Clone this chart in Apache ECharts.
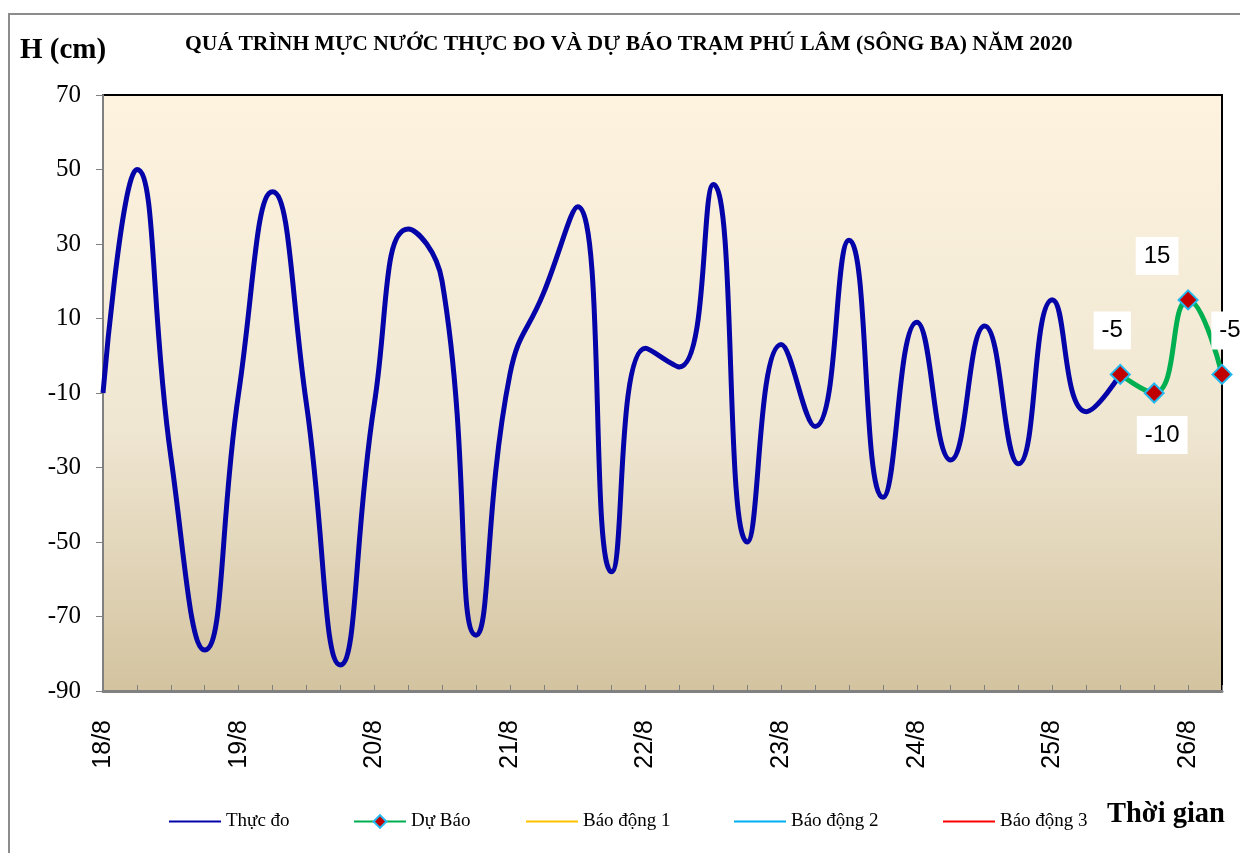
<!DOCTYPE html>
<html><head><meta charset="utf-8">
<script src="https://cdn.jsdelivr.net/npm/echarts@6/dist/echarts.min.js"></script>
<style>html,body{margin:0;padding:0;background:#fff}#c{width:1240px;height:853px}</style>
</head><body><div id="c"></div>
<script>
// Day labels (ticks at 00h of each day), data at 6-hour steps
var days = ['18/8','19/8','20/8','21/8','22/8','23/8','24/8','25/8','26/8'];
var hours = ['00h','06h','12h','18h'];
// Observed water level (cm), 18/8 00h .. 25/8 12h
var observed = [-10,50,-27,-79, -10,44,-13,-83, -13,34,20,-75, -5,17,40,-58,
                2,-3,46,-50, 3,-19,31,-38, 9,-28,8,-29, 15,-15,-5];
// Forecast (cm), 25/8 12h .. 26/8 06h
var forecast = [-5,-10,15,-5];
var forecastStart = 30;
var yTicks = {min:-90, max:70, step:20};
var legendNames = ['Thực đo','Dự Báo','Báo động 1','Báo động 2','Báo động 3'];

var categories = [];
days.forEach(function(d){ hours.forEach(function(h){ categories.push(d+' '+h); }); });
categories = categories.slice(0, forecastStart + forecast.length);

var obsData = categories.map(function(c,i){ return i < observed.length ? observed[i] : null; });
var labelOffsets = [[-8,-44],[8,42],[-31,-44],[8,-44]];
var fcData = categories.map(function(c,i){
  var k = i - forecastStart;
  if (k < 0 || k >= forecast.length) return null;
  return {value: forecast[k], label:{offset: labelOffsets[k]}};
});

var serif = '"Liberation Serif","Times New Roman",serif';
var sans = '"Liberation Sans",Arial,sans-serif';
var legendLefts = [163,348,520,728,937];
var legends = legendNames.map(function(n,i){
  var item = {name:n};
  if (n !== 'Dự Báo') item.itemStyle = {opacity:0};
  return {left:legendLefts[i],top:807,itemWidth:52,itemHeight:16,
    textStyle:{fontFamily:serif,fontSize:19,color:'#000'},data:[item]};
});

var chart = echarts.init(document.getElementById('c'), null, {renderer:'canvas'});
chart.setOption({
  animation:false,
  backgroundColor:'#ffffff',
  grid:{left:103,right:18,top:95,bottom:162,show:true,borderColor:'#000',borderWidth:2,
    backgroundColor:{type:'linear',x:0,y:0,x2:0,y2:1,colorStops:[
      {offset:0,color:'#fdf3df'},{offset:0.55,color:'#f0e7d3'},{offset:1,color:'#d3c39f'}]}},
  xAxis:{type:'category',data:categories,boundaryGap:false,
    axisLine:{onZero:false,lineStyle:{color:'#808080',width:3}},
    axisTick:{inside:true,length:6,interval:0,lineStyle:{color:'#808080',width:1}},
    axisLabel:{interval:3,rotate:90,margin:29,color:'#000',fontFamily:sans,fontSize:25,
      formatter:function(v){return v.split(' ')[0];}},
    splitLine:{show:false}},
  yAxis:{type:'value',min:yTicks.min,max:yTicks.max,interval:yTicks.step,
    axisLine:{show:true,lineStyle:{color:'#808080',width:2}},
    axisTick:{show:true,length:7,lineStyle:{color:'#808080',width:1}},
    axisLabel:{margin:22,color:'#000',fontFamily:serif,fontSize:25},
    splitLine:{show:false}},
  legend:legends,
  graphic:[
    {type:'rect',shape:{x:9,y:14,width:1250,height:850},style:{fill:'none',stroke:'#8c8c8c',lineWidth:2},silent:true,z:-1},
    {type:'text',left:20,top:36,style:{text:'H (cm)',font:'bold 29px '+serif,fill:'#000'}},
    {type:'text',left:185,top:33,style:{text:'QUÁ TRÌNH MỰC NƯỚC THỰC ĐO VÀ DỰ BÁO TRẠM PHÚ LÂM (SÔNG BA) NĂM 2020',font:'bold 21.6px '+serif,fill:'#000'}},
    {type:'text',left:1107,top:800,style:{text:'Thời gian',font:'bold 28.5px '+serif,fill:'#000'}}
  ],
  series:[
    {name:'Thực đo',type:'line',data:obsData,smooth:0.5,symbol:'none',
      lineStyle:{color:'#0404a8',width:5},itemStyle:{color:'#0404a8'},z:3},
    {name:'Dự Báo',type:'line',data:fcData,smooth:0.5,symbol:'diamond',symbolSize:19,
      lineStyle:{color:'#00b050',width:5},
      itemStyle:{color:'#c00000',borderColor:'#22b8f0',borderWidth:2},
      label:{show:true,position:'inside',color:'#000',fontFamily:sans,fontSize:24,
        backgroundColor:'#fff',padding:[8,8,6,8]},z:4},
    {name:'Báo động 1',type:'line',data:[],symbol:'none',lineStyle:{color:'#ffc000',width:3},itemStyle:{color:'#ffc000'}},
    {name:'Báo động 2',type:'line',data:[],symbol:'none',lineStyle:{color:'#00b0f0',width:3},itemStyle:{color:'#00b0f0'}},
    {name:'Báo động 3',type:'line',data:[],symbol:'none',lineStyle:{color:'#ff0000',width:3},itemStyle:{color:'#ff0000'}}
  ]
});
</script></body></html>
